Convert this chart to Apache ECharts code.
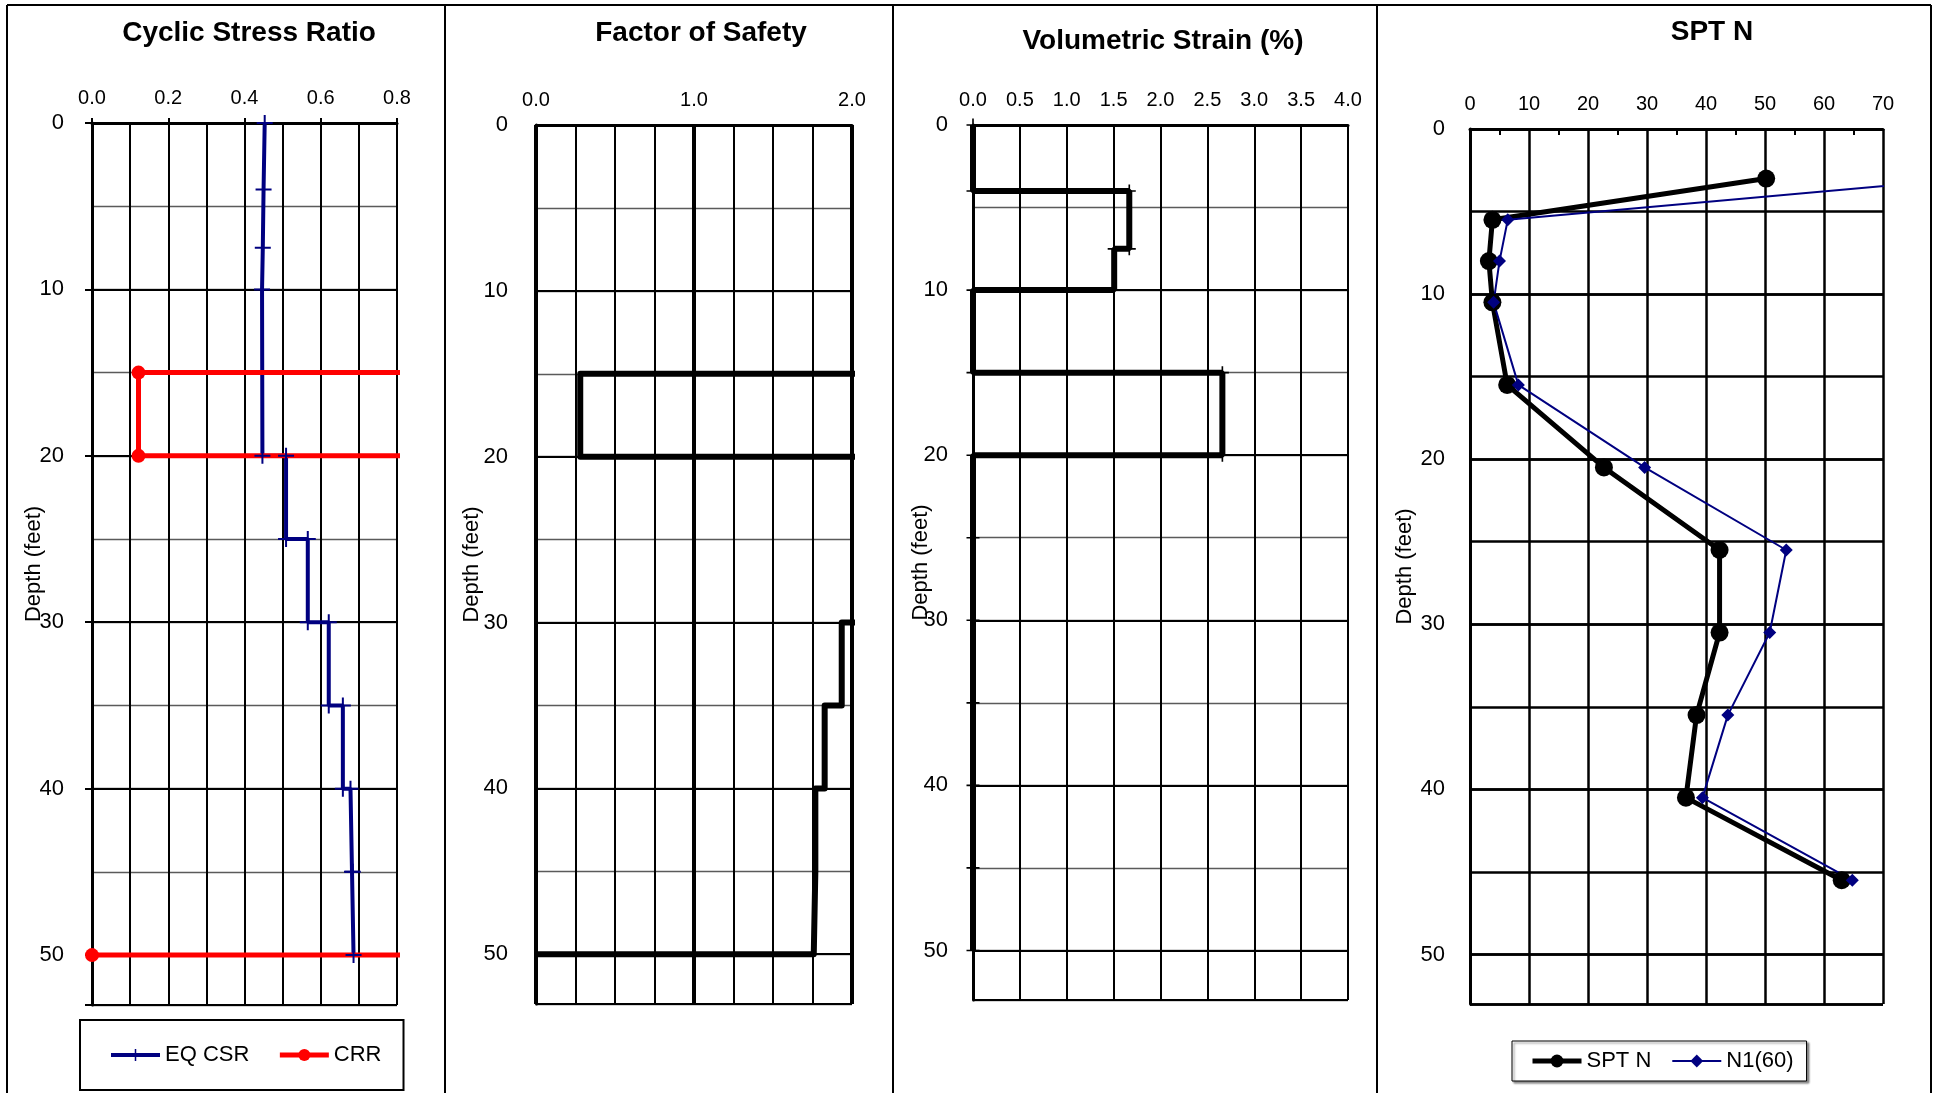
<!DOCTYPE html>
<html><head><meta charset="utf-8">
<script src="https://cdn.jsdelivr.net/npm/echarts@6/dist/echarts.min.js"></script>
<style>html,body{margin:0;padding:0;background:#fff}#c{width:1936px;height:1093px}</style>
</head><body><div id="c"></div>
<script>
// ---------------- data ----------------
// Panel 1: Cyclic Stress Ratio
const csrDepth = [0, 4, 7.5, 10, 20, 20, 25, 25, 30, 30, 35, 35, 40, 40, 45, 45, 50];
const csrValue = [0.453, 0.450, 0.448, 0.446, 0.447, 0.509, 0.509, 0.566, 0.566, 0.621, 0.621, 0.658, 0.658, 0.678, 0.682, 0.684, 0.686];
const crrDepth = [0, 15, 15, 20, 20, 50, 50];
const crrValue = [2, 2, 0.122, 0.122, 2, 2, 0];
// Panel 2: Factor of Safety
const fsDepth = [0, 15, 15, 20, 20, 30, 30, 35, 35, 40, 40, 45, 45, 50, 50];
const fsValue = [5, 5, 0.28, 0.28, 5, 5, 1.935, 1.935, 1.827, 1.827, 1.768, 1.768, 1.758, 1.758, 0];
// Panel 3: Volumetric Strain (%)
const vsDepth = [0, 4, 4, 7.5, 7.5, 10, 10, 15, 15, 20, 20, 25, 30, 35, 40, 45, 50];
const vsValue = [0, 0, 1.667, 1.667, 1.506, 1.506, 0, 0, 2.66, 2.66, 0, 0, 0, 0, 0, 0, 0];
// Panel 4: SPT N
const sptDepth = [3, 5.5, 8, 10.5, 15.5, 20.5, 25.5, 30.5, 35.5, 40.5, 45.5];
const sptN     = [50.2, 3.8, 3.2, 3.8, 6.3, 22.7, 42.3, 42.3, 38.4, 36.6, 63.0];
const n160     = [84, 6.4, 5.0, 4.0, 8.2, 29.6, 53.6, 50.8, 43.7, 39.4, 64.8];

const titles = ['Cyclic Stress Ratio', 'Factor of Safety', 'Volumetric Strain (%)', 'SPT N'];
const depthName = 'Depth (feet)';
const legend1Items = ['EQ CSR', 'CRR'];
const legend2Items = ['SPT N', 'N1(60)'];
const depthMax = 53;

// ---------------- chart ----------------
const FONT = 'Arial, "Liberation Sans", sans-serif';
const CROSS = 'path://M-8,-1L8,-1L8,1L-8,1Z M-1,-8L1,-8L1,8L-1,8Z';
const zip = (xs, ys) => xs.map((x, i) => [x, ys[i]]);
const chart = echarts.init(document.getElementById('c'), null, {renderer: 'canvas'});

const grids = [
  {left: 92,   top: 123, width: 305, height: 882},
  {left: 536,  top: 125, width: 316, height: 879},
  {left: 973,  top: 125, width: 375, height: 875},
  {left: 1470, top: 129, width: 413, height: 875}
].map(g => Object.assign({outerBoundsMode: 'none', containLabel: false}, g));

function xAx(gi, max, interval, fmt, extra) {
  return Object.assign({
    type: 'value', gridIndex: gi, position: 'top', min: 0, max: max, interval: interval,
    axisLine: {show: true, onZero: false, lineStyle: {color: '#000', width: 3}},
    axisTick: {show: false},
    axisLabel: {fontSize: 20, color: '#000', fontFamily: FONT, margin: 15, formatter: fmt},
    splitLine: {show: true, lineStyle: {color: '#000', width: 2}}
  }, extra || {});
}
const xAxes = [
  xAx(0, 0.8, 0.2, v => v.toFixed(1), {
    axisTick: {show: true, length: 5, lineStyle: {color: '#000', width: 2}},
    minorTick: {show: false, splitNumber: 2},
    minorSplitLine: {show: true, lineStyle: {color: '#000', width: 2}}
  }),
  xAx(1, 2, 1, v => v.toFixed(1), {
    splitLine: {show: true, lineStyle: {color: '#000', width: 4}},
    minorTick: {show: false, splitNumber: 4},
    minorSplitLine: {show: true, lineStyle: {color: '#000', width: 2}}
  }),
  xAx(2, 4, 0.5, v => v.toFixed(1)),
  xAx(3, 70, 10, v => String(v), {
    splitLine: {show: true, lineStyle: {color: '#000', width: 2.5}},
    axisTick: {show: false, inside: true},
    minorTick: {show: true, splitNumber: 2, length: 6, lineStyle: {color: '#000', width: 2}}
  })
];

const nameGaps = [47, 53, 41, 54];
const labelMargins = [28, 28, 25, 25];
const yAxes = [];
for (let gi = 0; gi < 4; gi++) {
  // minor (5 ft) grid lines
  yAxes.push({
    type: 'value', gridIndex: gi, position: 'left', inverse: true, min: 0, max: depthMax, interval: 5, z: 0,
    axisLine: {show: false}, axisTick: {show: false}, axisLabel: {show: false},
    splitLine: {show: true, lineStyle: gi === 3 ? {color: '#000', width: 2.5} : {color: '#5a5a5a', width: 1.3}}
  });
  // major (10 ft) axis
  yAxes.push({
    type: 'value', gridIndex: gi, position: 'left', inverse: true, min: 0, max: depthMax, interval: 10, z: 1,
    name: depthName, nameLocation: 'middle', nameGap: nameGaps[gi], nameMoveOverlap: false,
    nameTextStyle: {fontSize: 22, color: '#000', fontFamily: FONT},
    axisLine: {show: true, onZero: false, lineStyle: {color: '#000', width: 3}},
    axisTick: {show: gi === 0, length: 7, lineStyle: {color: '#000', width: 2}},
    axisLabel: {fontSize: 22, color: '#000', fontFamily: FONT, margin: labelMargins[gi],
      formatter: v => (v % 10 === 0 ? String(v) : '')},
    splitLine: {show: true, lineStyle: {color: '#000', width: gi === 3 ? 2.5 : 2}}
  });
}

const series = [
  {name: 'EQ CSR', type: 'line', xAxisIndex: 0, yAxisIndex: 1, data: zip(csrValue, csrDepth),
   symbol: CROSS, symbolSize: 16, lineStyle: {color: '#000080', width: 4}, itemStyle: {color: '#000080'}},
  {name: 'CRR', type: 'line', xAxisIndex: 0, yAxisIndex: 1, data: zip(crrValue, crrDepth),
   symbol: 'circle', symbolSize: 14, lineStyle: {color: '#ff0000', width: 5}, itemStyle: {color: '#ff0000'}},
  {name: 'Factor of Safety', type: 'line', xAxisIndex: 1, yAxisIndex: 3, data: zip(fsValue, fsDepth),
   symbol: 'none', lineStyle: {color: '#000', width: 6, join: 'round'}},
  {name: 'Volumetric Strain', type: 'line', xAxisIndex: 2, yAxisIndex: 5, data: zip(vsValue, vsDepth),
   symbol: CROSS, symbolSize: 13, lineStyle: {color: '#000', width: 6}, itemStyle: {color: '#000'}},
  {name: 'SPT N', type: 'line', xAxisIndex: 3, yAxisIndex: 7, data: zip(sptN, sptDepth),
   symbol: 'circle', symbolSize: 18, lineStyle: {color: '#000', width: 5}, itemStyle: {color: '#000'}},
  {name: 'N1(60)', type: 'line', xAxisIndex: 3, yAxisIndex: 7, data: zip(n160, sptDepth),
   symbol: 'diamond', symbolSize: 13, lineStyle: {color: '#000080', width: 2}, itemStyle: {color: '#000080'}}
].map(s => Object.assign({clip: true, animation: false, z: 3}, s));

const titlePos = [[249, 33], [701, 33], [1163, 41], [1712, 32]];
const graphic = [];
[[7, 5, 1931, 5], [7, 5, 7, 1093], [445, 5, 445, 1093], [893, 5, 893, 1093], [1377, 5, 1377, 1093], [1931, 5, 1931, 1093]]
  .forEach(l => graphic.push({type: 'line', silent: true,
    shape: {x1: l[0], y1: l[1], x2: l[2], y2: l[3]}, style: {stroke: '#000', lineWidth: 2}}));
titles.forEach((t, i) => graphic.push({type: 'text', x: titlePos[i][0], y: titlePos[i][1], silent: true,
  style: {text: t, fill: '#000', font: 'bold 28px ' + FONT, textAlign: 'center', textVerticalAlign: 'middle'}}));

chart.setOption({
  animation: false,
  backgroundColor: '#fff',
  grid: grids,
  xAxis: xAxes,
  yAxis: yAxes,
  legend: [
    {data: legend1Items, left: 80, top: 1020, orient: 'horizontal', selectedMode: false,
     itemWidth: 49, itemHeight: 15, itemGap: 28, padding: [24, 22, 24, 29],
     lineStyle: {width: 'inherit'},
     borderColor: '#000', borderWidth: 2, textStyle: {fontSize: 22, color: '#000', fontFamily: FONT}},
    {data: legend2Items, left: 1512, top: 1041, orient: 'horizontal', selectedMode: false,
     itemWidth: 49, itemHeight: 16, itemGap: 20, padding: [9, 13, 9, 18],
     lineStyle: {width: 'inherit'},
     borderColor: '#000', borderWidth: 1, shadowColor: 'rgba(0,0,0,0.45)', shadowBlur: 2, shadowOffsetX: 2, shadowOffsetY: 2,
     backgroundColor: '#fff', textStyle: {fontSize: 22, color: '#000', fontFamily: FONT}}
  ],
  graphic: graphic,
  series: series
});
</script></body></html>
